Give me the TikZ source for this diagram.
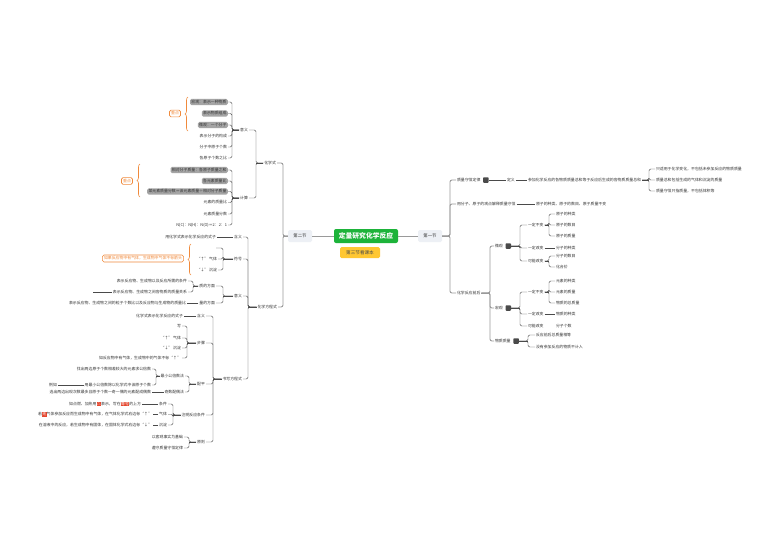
\documentclass[tikz,border=0pt]{standalone}
\usepackage{fontspec}
\setmainfont{Noto Sans CJK SC}
\usetikzlibrary{decorations.pathreplacing,calc}
\definecolor{txt}{HTML}{333333}
\definecolor{trunkc}{HTML}{9A9A9A}
\definecolor{lnc}{HTML}{4A4A4A}
\definecolor{rootg}{HTML}{1DB33A}
\definecolor{yel}{HTML}{FFC733}
\definecolor{secf}{HTML}{EDF0F5}
\definecolor{grayb}{HTML}{A5A5A5}
\definecolor{orng}{HTML}{F08A3C}
\definecolor{hlred}{HTML}{E5472F}
\newcommand\fs{\fontsize{3.9}{4.7}\selectfont}
\newcommand\hlr[1]{{\setlength\fboxsep{0.4pt}\colorbox{hlred}{\textcolor{white}{#1}}}}
\newcommand\conR[4][ln]{\draw[#1] (#3.west) -| (#2.east -| #4) -- (#2.east);}
\newcommand\conL[4][ln]{\draw[#1] (#3.east) -| (#2.west -| #4) -- (#2.west);}
\newcommand\stubR[2]{\draw[stub] (#1.east) -- (#1.east -| #2);}
\newcommand\stubL[2]{\draw[stub] (#1.west) -- (#1.west -| #2);}
\begin{document}
\begin{tikzpicture}[x=1pt,y=-1pt,
  every node/.style={font=\fs,text=txt,inner sep=0.8pt},
  gbox/.style={fill=grayb,rounded corners=1.5pt,inner sep=1.3pt},
  obox/.style={draw=orng,line width=0.6pt,fill=white,text=orng,rounded corners=1.5pt,inner sep=1.6pt},
  secbox/.style={fill=secf,rounded corners=1.5pt,minimum width=24pt,minimum height=12pt,font=\fontsize{4.4}{5}\selectfont},
  icon/.style={fill=lnc,minimum size=5.5pt,inner sep=0pt,rounded corners=0.8pt},
  trunk/.style={draw=trunkc,line width=0.9pt,rounded corners=2pt},
  ln/.style={draw=lnc,line width=0.45pt,rounded corners=1.5pt},
  stub/.style={draw=lnc,line width=1pt},
  obr/.style={draw=orng,line width=0.6pt,decorate,decoration={brace,amplitude=3pt}}]
\fill[white] (0,0) rectangle (771,552);
\useasboundingbox (0,0) rectangle (771,552);

% ---------- centre ----------
\node[fill=rootg,text=white,font=\fontsize{6.8}{8}\selectfont\bfseries,rounded corners=2pt,minimum width=64pt,minimum height=14pt] (root) at (366,236) {定量研究化学反应};
\node[fill=yel,text=black!70,rounded corners=1.5pt,minimum width=40pt,minimum height=11pt,font=\fontsize{4.6}{5}\selectfont] (note) at (360,252.5) {第三节看课本};
\node[secbox] (sec2) at (300,236) {第二节};
\node[secbox] (sec1) at (430,236) {第一节};
\draw[trunk] (root.west) -- (sec2.east);
\draw[trunk] (root.east) -- (sec1.west);

% ---------- right side ----------
\coordinate (bR) at (450,0);
\node[anchor=west] (r1) at (456,180) {质量守恒定律};
\node[icon,anchor=west] (r1i) at ([xshift=1.5pt]r1.east) {};
\node[anchor=west] (r1a) at (506,180) {定义};
\node[anchor=west] (r1b) at (527,180) {参加化学反应的各物质质量总和等于反应后生成的各物质质量总和};
\coordinate (b1) at (649,0);
\node[anchor=west] (r1c1) at (655,169) {只适用于化学变化，不包括未参加反应的物质质量};
\node[anchor=west] (r1c2) at (655,180) {质量总和包括生成的气体和沉淀的质量};
\node[anchor=west] (r1c3) at (655,191) {质量守恒只指质量，不包括体积等};
\node[anchor=west] (r2) at (456,204) {用分子、原子的观点解释质量守恒};
\node[anchor=west] (r2a) at (535,204) {原子的种类、原子的数目、原子质量不变};
\node[anchor=west] (r3) at (456,293) {化学反应前后};

\draw[trunk] (sec1.east) -- (sec1.east -| bR);
\conR[trunk]{sec1}{r1}{bR}
\conR[trunk]{sec1}{r2}{bR}
\conR[trunk]{sec1}{r3}{bR}
\draw[ln] (r1i.east) -- (r1a.west);
\draw[ln] (r1a.east) -- (r1b.west);
\stubR{r1b}{b1}
\conR{r1b}{r1c1}{b1}
\conR{r1b}{r1c2}{b1}
\conR{r1b}{r1c3}{b1}
\draw[ln] (r2.east) -- (r2a.west);

% micro / macro
\coordinate (b3) at (490,0);
\node[anchor=west] (m1) at (494,246) {微观};
\node[icon,anchor=west] (m1i) at ([xshift=1.5pt]m1.east) {};
\node[anchor=west] (m2) at (494,308) {宏观};
\node[icon,anchor=west] (m2i) at ([xshift=1.5pt]m2.east) {};
\node[anchor=west] (m3) at (494,341) {物质质量};
\node[icon,anchor=west] (m3i) at ([xshift=1.5pt]m3.east) {};
\draw[trunk] (r3.east) -- (r3.east -| b3);
\conR[trunk]{r3}{m1}{b3}
\conR[trunk]{r3}{m2}{b3}
\conR[trunk]{r3}{m3}{b3}

\coordinate (bm1) at (520,0);
\coordinate (bmm) at (549,0);
\node[anchor=west] (m1a) at (527,225) {一定不变};
\node[anchor=west] (m1a1) at (555,214) {原子的种类};
\node[anchor=west] (m1a2) at (555,225) {原子的数目};
\node[anchor=west] (m1a3) at (555,236) {原子的质量};
\node[anchor=west] (m1b) at (527,248) {一定改变};
\node[anchor=west] (m1b1) at (555,248) {分子的种类};
\node[anchor=west] (m1c) at (527,261) {可能改变};
\node[anchor=west] (m1c1) at (555,256) {分子的数目};
\node[anchor=west] (m1c2) at (555,267) {化合价};
\stubR{m1i}{bm1}
\conR{m1i}{m1a}{bm1}
\conR{m1i}{m1b}{bm1}
\conR{m1i}{m1c}{bm1}
\stubR{m1a}{bmm}
\conR{m1a}{m1a1}{bmm}
\conR{m1a}{m1a2}{bmm}
\conR{m1a}{m1a3}{bmm}
\draw[ln] (m1b.east) -- (m1b1.west);
\stubR{m1c}{bmm}
\conR{m1c}{m1c1}{bmm}
\conR{m1c}{m1c2}{bmm}

\node[anchor=west] (m2a) at (527,292) {一定不变};
\node[anchor=west] (m2a1) at (555,281) {元素的种类};
\node[anchor=west] (m2a2) at (555,292) {元素的质量};
\node[anchor=west] (m2a3) at (555,303) {物质的总质量};
\node[anchor=west] (m2b) at (527,314) {一定改变};
\node[anchor=west] (m2b1) at (555,314) {物质的种类};
\node[anchor=west] (m2c) at (527,326) {可能改变};
\node[anchor=west] (m2c1) at (555,326) {分子个数};
\stubR{m2i}{bm1}
\conR{m2i}{m2a}{bm1}
\conR{m2i}{m2b}{bm1}
\conR{m2i}{m2c}{bm1}
\stubR{m2a}{bmm}
\conR{m2a}{m2a1}{bmm}
\conR{m2a}{m2a2}{bmm}
\conR{m2a}{m2a3}{bmm}
\draw[ln] (m2b.east) -- (m2b1.west);

\coordinate (bm3) at (528,0);
\node[anchor=west] (m3a) at (535,335) {反应前后总质量相等};
\node[anchor=west] (m3b) at (535,347) {没有参加反应的物质不计入};
\stubR{m3i}{bm3}
\conR{m3i}{m3a}{bm3}
\conR{m3i}{m3b}{bm3}

% ---------- left side ----------
\coordinate (bL) at (283,0);
\node[anchor=east] (L1) at (277,163) {化学式};
\node[anchor=east] (L2) at (278,307) {化学方程式};
\draw[trunk] (sec2.west) -- (sec2.west -| bL);
\conL[trunk]{sec2}{L1}{bL}
\conL[trunk]{sec2}{L2}{bL}

% chemical formula
\coordinate (bL1) at (256,0);
\node[anchor=east] (A) at (249,130) {意义};
\node[anchor=east] (B) at (249,198) {计算};
\stubL{L1}{bL1}
\conL{L1}{A}{bL1}
\conL{L1}{B}{bL1}

\coordinate (bA) at (232,0);
\node[gbox,anchor=east] (g1) at (228,102) {宏观：表示一种物质};
\node[gbox,anchor=east] (g2) at (228,113.5) {表示物质组成};
\node[gbox,anchor=east] (g3) at (228,125) {微观：一个分子};
\node[anchor=east] (p4) at (228,136) {表示分子的构成};
\node[anchor=east] (p5) at (228,147) {分子中原子个数};
\node[anchor=east] (p6) at (228,158) {各原子个数之比};
\stubL{A}{bA}
\foreach \c in {g1,g2,g3,p4,p5,p6} {\conL{A}{\c}{bA}}
\node[obox] (oA) at (175,113.5) {重点};
\draw[obr] (188,131) -- (188,97);

\node[gbox,anchor=east] (h1) at (228,170) {相对分子质量：各原子质量之和};
\node[gbox,anchor=east] (h2) at (228,181) {各元素质量比};
\node[gbox,anchor=east] (h3) at (228,191.5) {某元素质量分数＝该元素质量÷相对分子质量};
\node[anchor=east] (h4) at (228,202.5) {元素的质量比};
\node[anchor=east] (h5) at (228,214) {元素质量分数};
\node[anchor=east] (h6) at (228,225) {N(C)：N(H)：N(O)＝2：2：1};
\stubL{B}{bA}
\foreach \c in {h1,h2,h3,h4,h5,h6} {\conL{B}{\c}{bA}}
\node[obox] (oB) at (127,181) {重点};
\draw[obr] (140,197) -- (140,164);

% chemical equation
\coordinate (bL2) at (248,0);
\node[anchor=east] (C1) at (243,237) {含义};
\node[anchor=east] (C2) at (243,259) {符号};
\node[anchor=east] (C3) at (243,296) {意义};
\node[anchor=east] (C4) at (243,379) {书写方程式};
\stubL{L2}{bL2}
\foreach \c in {C1,C2,C3,C4} {\conL{L2}{\c}{bL2}}

\node[anchor=east] (C1a) at (217,237) {用化学式表示化学反应的式子};
\draw[ln] (C1.west) -- (C1a.east);

\coordinate (bC2) at (223,0);
\coordinate (c2e) at (216,248);
\node[anchor=east] (C2b) at (218,259) {“↑” 气体};
\node[anchor=east] (C2c) at (218,270) {“↓” 沉淀};
\stubL{C2}{bC2}
\draw[ln] (c2e) -| (C2.west -| bC2) -- (C2.west);
\conL{C2}{C2b}{bC2}
\conL{C2}{C2c}{bC2}
\node[obox] (oC) at (143,258.5) {如果反应物中有气体，生成物中气体不标箭头};
\draw[obr] (191,275) -- (191,244);

\node[anchor=east] (q1) at (216,286) {质的方面};
\node[anchor=east] (q2) at (216,303) {量的方面};
\stubL{C3}{bC2}
\conL{C3}{q1}{bC2}
\conL{C3}{q2}{bC2}
\coordinate (bq1) at (193,0);
\node[anchor=east] (q11) at (188,281) {表示反应物、生成物以及反应所需的条件};
\node[anchor=east] (q12) at (188,292) {表示反应物、生成物之间各物质的质量关系};
\coordinate (qx) at (93,292);
\stubL{q1}{bq1}
\conL{q1}{q11}{bq1}
\conL{q1}{q12}{bq1}
\draw[ln] (q12.west) -- (qx);
\node[anchor=east] (q21) at (187,303) {表示反应物、生成物之间的粒子个数比以及反应物与生成物的质量比};
\draw[ln] (q2.west) -- (q21.east);

% writing equations
\coordinate (bC4) at (213,0);
\node[anchor=east] (D1) at (206,316) {含义};
\node[anchor=east] (D2) at (206,343) {步骤};
\node[anchor=east] (D3) at (206,384) {配平};
\node[anchor=east] (D4) at (206,415) {注明反应条件};
\node[anchor=east] (D5) at (206,442) {原则};
\stubL{C4}{bC4}
\foreach \c in {D1,D2,D3,D4,D5} {\conL{C4}{\c}{bC4}}

\node[anchor=east] (D1a) at (184,316) {化学式表示化学反应的式子};
\draw[ln] (D1.west) -- (D1a.east);

\coordinate (bD2) at (187,0);
\node[anchor=east] (D2a) at (182,326) {写};
\node[anchor=east] (D2b) at (182,338) {“↑” 气体};
\node[anchor=east] (D2c) at (182,348) {“↓” 沉淀};
\node[anchor=east] (D2d) at (182,358) {如反应物中有气体，生成物中的气体不标“↑”};
\stubL{D2}{bD2}
\foreach \c in {D2a,D2b,D2c,D2d} {\conL{D2}{\c}{bD2}}

\coordinate (bD3) at (189,0);
\node[anchor=east] (E1) at (185,376) {最小公倍数法};
\node[anchor=east] (E2) at (185,392) {奇数配偶法};
\stubL{D3}{bD3}
\conL{D3}{E1}{bD3}
\conL{D3}{E2}{bD3}
\coordinate (bE1) at (156,0);
\node[anchor=east] (e1) at (152,369) {找出两边原子个数相差较大的元素求公倍数};
\node[anchor=east] (e2) at (152,385) {用最小公倍数除以化学式中该原子个数};
\node[anchor=east] (ex) at (58,385) {例如};
\stubL{E1}{bE1}
\conL{E1}{e1}{bE1}
\conL{E1}{e2}{bE1}
\draw[ln] (e2.west) -- (ex.east);
\node[anchor=east] (e3) at (152,392) {选出两边出现次数最多且原子个数一奇一偶的元素配成偶数};
\draw[ln] (E2.west) -- (e3.east);

\coordinate (bD4) at (173,0);
\node[anchor=east] (F1) at (168,404) {条件};
\node[anchor=east] (F2) at (168,414.5) {气体};
\node[anchor=east] (F3) at (168,425) {沉淀};
\stubL{D4}{bD4}
\foreach \c in {F1,F2,F3} {\conL{D4}{\c}{bD4}}
\node[anchor=east] (F1a) at (142,404) {如点燃、加热用\hlr{△}表示，写在\hlr{等号}的上方};
\node[anchor=east] (F2a) at (153,414.5) {若\hlr{无}气体参加反应而生成物中有气体，在气体化学式右边标“↑”};
\node[anchor=east] (F3a) at (153,425) {在溶液中的反应，若生成物中有固体，在固体化学式右边标“↓”};
\draw[ln] (F1.west) -- (F1a.east);
\draw[ln] (F2.west) -- (F2a.east);
\draw[ln] (F3.west) -- (F3a.east);

\coordinate (bD5) at (189,0);
\node[anchor=east] (G1) at (184,437) {以客观事实为基础};
\node[anchor=east] (G2) at (184,448) {遵守质量守恒定律};
\stubL{D5}{bD5}
\conL{D5}{G1}{bD5}
\conL{D5}{G2}{bD5}
\end{tikzpicture}
\end{document}
